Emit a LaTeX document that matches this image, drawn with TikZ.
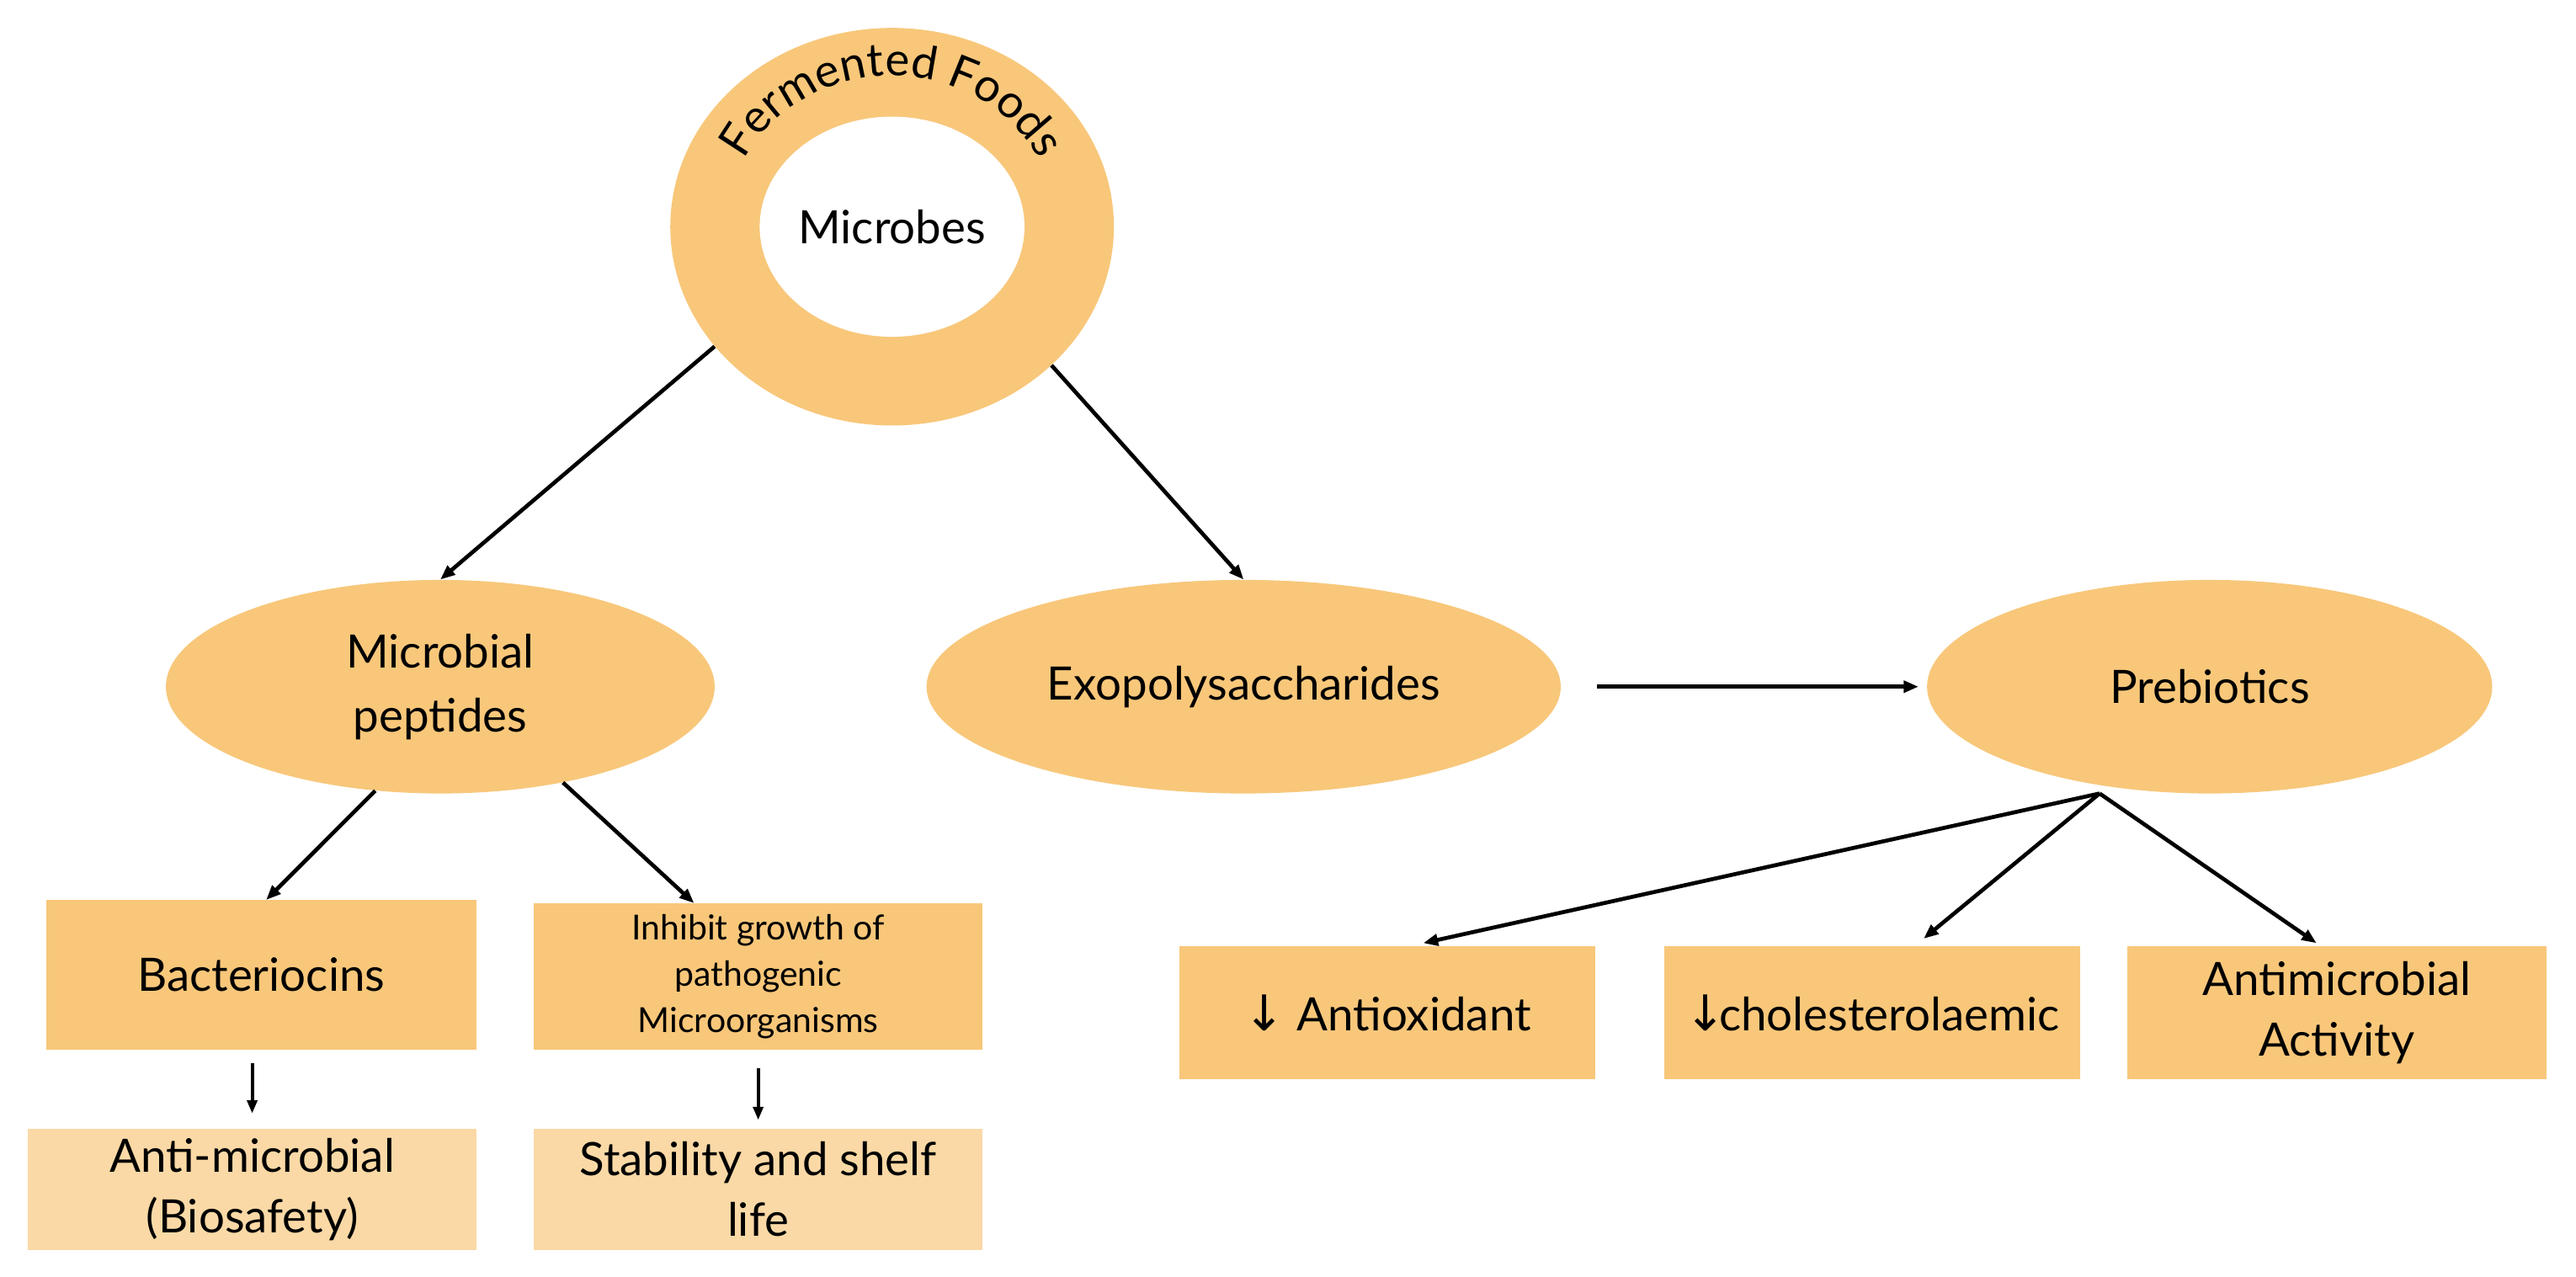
\documentclass[tikz,border=0pt]{standalone}
\usepackage{fontspec}
\setmainfont{Lato}
\newfontfamily\arrowfont{DejaVu Sans}
\usetikzlibrary{shapes.geometric,arrows.meta,decorations.text}
\definecolor{org}{HTML}{F8C77A}
\definecolor{lorg}{HTML}{FAD9A6}
\begin{document}
\begin{tikzpicture}[x=1pt,y=1pt,
  fs/.style args={#1/#2}{font=\fontsize{#1}{#2}\selectfont},
  ell/.style={ellipse,fill=org,align=center,inner sep=0pt},
  box/.style={rectangle,fill=org,align=center,inner sep=0pt},
  lbox/.style={rectangle,fill=lorg,align=center,inner sep=0pt},
  arr/.style={line width=2.4pt,-{Triangle[length=9pt,width=7pt]}},
  sarr/.style={line width=2pt,-{Triangle[length=8pt,width=6pt]}}]
\useasboundingbox (0,0) rectangle (1568,-777);
% ring
\node[ellipse,fill=org,minimum width=270,minimum height=242,inner sep=0pt] (ring) at (543,-138) {};
\node[ellipse,fill=white,minimum width=160,minimum height=134,inner sep=0pt,fs=28/32] (mic) at (543,-138) {Microbes};
\path[decorate,decoration={text along path,text align=center,
  text={|\fontsize{28}{28}\selectfont|Fermented Foods}}]
  (543,-138) ++(165:100 and 92) arc[start angle=165,end angle=15,x radius=100,y radius=92];
% ellipses
\node[ell,minimum width=334,minimum height=130,fs=28/39] (mp) at (268,-418) {Microbial\\peptides};
\node[ell,minimum width=386,minimum height=130,fs=28/32] (exo) at (757,-418) {Exopolysaccharides};
\node[ell,minimum width=344,minimum height=130,fs=28/32] (pre) at (1345,-418) {Prebiotics};
% boxes
\node[box,minimum width=262,minimum height=91,fs=28/32] (bac) at (159,-593.5) {Bacteriocins};
\node[box,minimum width=273,minimum height=89,fs=21/28] (inh) at (461.5,-594.5) {Inhibit growth of\\pathogenic\\Microorganisms};
\node[lbox,minimum width=273,minimum height=74,fs=28/37] (anti) at (153.5,-724) {Anti-microbial\\(Biosafety)};
\node[lbox,minimum width=273,minimum height=74,fs=28/37] (stab) at (461.5,-724) {Stability and shelf\\life};
\node[box,minimum width=253,minimum height=81,fs=28/32] (ao) at (844.5,-616.5) {{\arrowfont\fontsize{30}{30}\selectfont↓} Antioxidant};
\node[box,minimum width=253,minimum height=81,fs=28/32] (ch) at (1139.5,-616.5) {{\arrowfont\fontsize{30}{30}\selectfont↓}\hspace{-4pt}cholesterolaemic};
\node[box,minimum width=255,minimum height=81,fs=28/37] (am) at (1422.5,-616.5) {Antimicrobial\\Activity};
% connectors
\draw[arr] (ring.-146) -- (mp.north);
\draw[arr] (ring.-41) -- (exo.north);
\draw[arr,shorten <=22pt,shorten >=5pt] (exo.east) -- (pre.west);
\draw[arr] (mp.-122) -- ([xshift=3pt]bac.north);
\draw[arr] (mp.-38) -- ([xshift=-39pt]inh.north);
\draw[sarr,shorten <=8pt,shorten >=9pt] (bac.south -| anti.north) -- (anti.north);
\draw[sarr,shorten <=11pt,shorten >=5pt] (inh.south) -- (stab.north);
\coordinate (pb) at (1278,-483);
\draw[arr,shorten >=8pt] (pb) -- ([xshift=14pt]ao.north);
\draw[arr,shorten >=7pt] (pb) -- ([xshift=26pt]ch.north);
\draw[arr,shorten >=3pt] (pb) -- ([xshift=-10pt]am.north);
\end{tikzpicture}
\end{document}
